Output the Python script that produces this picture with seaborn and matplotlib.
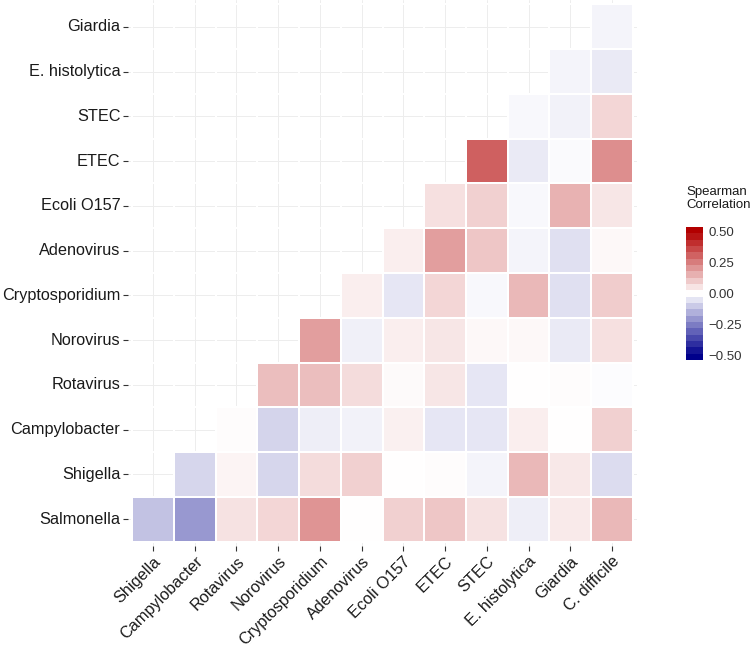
import numpy as np
import pandas as pd
import matplotlib
matplotlib.use("Agg")
import matplotlib.pyplot as plt
import seaborn as sns
from matplotlib.colors import LinearSegmentedColormap, ListedColormap, Normalize
from matplotlib.cm import ScalarMappable

x_labels = ["Shigella", "Campylobacter", "Rotavirus", "Norovirus", "Cryptosporidium",
            "Adenovirus", "Ecoli O157", "ETEC", "STEC", "E. histolytica", "Giardia", "C. difficile"]
y_labels = ["Giardia", "E. histolytica", "STEC", "ETEC", "Ecoli O157", "Adenovirus",
            "Cryptosporidium", "Norovirus", "Rotavirus", "Campylobacter", "Shigella", "Salmonella"]

n = np.nan
row_giardia = [n, n, n, n, n, n, n, n, n, n, n, -0.02]
row_ehist = [n, n, n, n, n, n, n, n, n, n, -0.02, -0.04]
row_stec = [n, n, n, n, n, n, n, n, n, -0.015, -0.025, 0.08]
row_etec = [n, n, n, n, n, n, n, n, 0.31, -0.04, -0.01, 0.22]
row_ecoli = [n, n, n, n, n, n, n, 0.06, 0.09, -0.015, 0.15, 0.05]
row_adeno = [n, n, n, n, n, n, 0.035, 0.19, 0.11, -0.02, -0.06, 0.015]
row_crypto = [n, n, n, n, n, 0.035, -0.05, 0.08, -0.015, 0.14, -0.06, 0.10]
row_noro = [n, n, n, n, 0.19, -0.03, 0.035, 0.05, 0.015, 0.012, -0.04, 0.06]
row_rota = [n, n, n, 0.125, 0.125, 0.07, 0.01, 0.05, -0.05, 0.0, 0.005, -0.005]
row_campy = [n, n, 0.005, -0.085, -0.035, -0.025, 0.03, -0.05, -0.05, 0.035, 0.0, 0.09]
row_shig = [n, -0.08, 0.02, -0.08, 0.07, 0.09, 0.0, 0.005, -0.02, 0.14, 0.045, -0.07]
row_salm = [-0.12, -0.2, 0.055, 0.08, 0.21, 0.0, 0.09, 0.11, 0.055, -0.035, 0.04, 0.14]

rows = [row_giardia, row_ehist, row_stec, row_etec, row_ecoli, row_adeno,
        row_crypto, row_noro, row_rota, row_campy, row_shig, row_salm]
df = pd.DataFrame(rows, index=y_labels, columns=x_labels)

sns.set_style("white")
plt.rcParams["font.family"] = ["Liberation Sans", "DejaVu Sans"]

low = (0 / 255, 0 / 255, 139 / 255)
high = (178 / 255, 0 / 255, 0 / 255)
cmap = LinearSegmentedColormap.from_list("rb", [low, (1, 1, 1), high])

fig = plt.figure(figsize=(7.5, 6.5), dpi=100)
W, H = 750, 650
ax = fig.add_axes([128 / W, (H - 546) / H, (637 - 128) / W, 546 / H])

sns.heatmap(df, ax=ax, cmap=cmap, vmin=-0.5, vmax=0.5, cbar=False,
            linewidths=0.25, linecolor="white", square=False)

ax.set_xlim(-0.1, len(x_labels) + 0.1)
ax.set_ylim(len(y_labels) + 0.1, -0.1)
ax.set_axisbelow(True)
ax.grid(True, color="#EDEDED", linewidth=0.7, zorder=0)
for s in ax.spines.values():
    s.set_visible(False)
ax.set_xlabel("")
ax.set_ylabel("")
ax.set_xticks(np.arange(len(x_labels)) + 0.5)
ax.set_yticks(np.arange(len(y_labels)) + 0.5)
ax.set_xticklabels(x_labels, rotation=45, ha="right", va="top", rotation_mode="anchor",
                   fontsize=11.7, color="#1a1a1a")
ax.set_yticklabels(y_labels, rotation=0, fontsize=11.7, color="#1a1a1a")
ax.tick_params(axis="both", which="major", length=3.5, width=0.8, color="#333333",
               pad=2, bottom=True, left=True)

# legend colorbar (stepped look)
vlo, vhi = -0.535, 0.535
nb = 21
centers = np.linspace(vlo, vhi, nb + 1)
centers = (centers[:-1] + centers[1:]) / 2
norm_full = Normalize(-0.5, 0.5)
bcols = [cmap(norm_full(np.clip(c, -0.5, 0.5))) for c in centers]
lcmap = ListedColormap(bcols)
cax = fig.add_axes([686 / W, (H - 360) / H, 17 / W, 133 / H])
sm = ScalarMappable(norm=Normalize(vlo, vhi), cmap=lcmap)
cb = fig.colorbar(sm, cax=cax, ticks=[-0.5, -0.25, 0, 0.25, 0.5])
cb.outline.set_visible(False)
cb.ax.set_yticklabels(["\u22120.50", "\u22120.25", "0.00", "0.25", "0.50"])
cax.tick_params(axis="y", direction="in", length=3.5, width=0.8, color="white",
                left=True, right=True, labelsize=9.5, labelcolor="#333333", pad=4)
fig.text(686 / W, (H - 186) / H, "Spearman\nCorrelation", fontsize=9.5, color="#1a1a1a",
         ha="left", va="top", linespacing=1.1)

fig.savefig("out.png", dpi=100)
